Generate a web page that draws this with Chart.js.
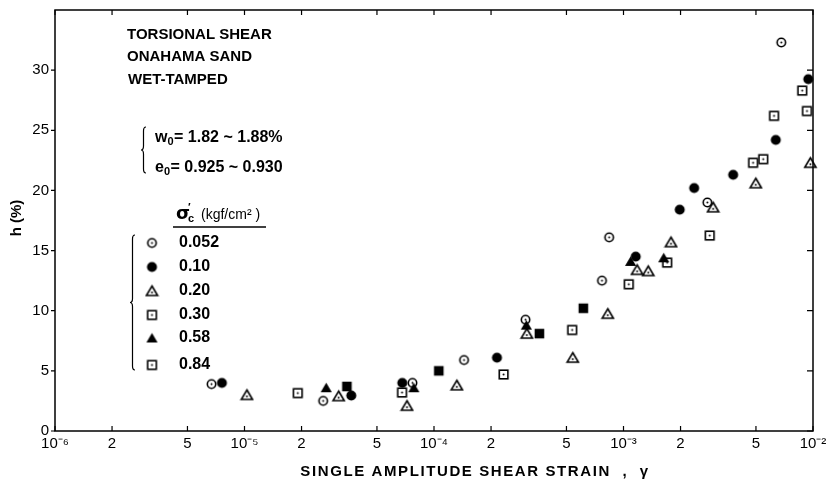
<!DOCTYPE html>
<html><head><meta charset="utf-8">
<script src="https://cdn.jsdelivr.net/npm/chart.js@4.4.1/dist/chart.umd.min.js"></script>
<style>html,body{margin:0;padding:0;background:#fff}</style>
</head><body>
<canvas id="c" width="836" height="483"></canvas>
<script>
// ---- tick values / labels ----
const xTickValues = [1e-6,2e-6,5e-6,1e-5,2e-5,5e-5,1e-4,2e-4,5e-4,1e-3,2e-3,5e-3,1e-2];
const xTickLabels = ['10⁻⁶','2','5','10⁻⁵','2','5','10⁻⁴','2','5','10⁻³','2','5','10⁻²'];
const yTickValues = [0,5,10,15,20,25,30];
const seriesLabels = ['0.052','0.10','0.20','0.30','0.58','0.84'];

// ---- data: single amplitude shear strain vs damping ratio h (%) ----
const strain052 = [6.7e-6, 2.6e-5, 7.7e-5, 1.44e-4, 3.04e-4, 7.7e-4, 8.4e-4, 2.77e-3, 6.8e-3];
const h052      = [3.9,    2.5,    4.0,    5.9,     9.25,    12.5,   16.1,   19.0,    32.3];

const strain010 = [7.6e-6, 3.66e-5, 6.8e-5, 2.15e-4, 1.16e-3, 1.98e-3, 2.36e-3, 3.79e-3, 6.36e-3, 9.44e-3];
const h010      = [4.0,    2.95,    4.0,    6.1,     14.5,    18.4,    20.2,    21.3,    24.2,    29.25];

const strain020 = [1.03e-5, 3.14e-5, 7.2e-5, 1.32e-4, 3.09e-4, 5.4e-4, 8.26e-4, 1.18e-3, 1.35e-3, 1.78e-3, 2.97e-3, 4.99e-3, 9.68e-3];
const h020      = [3.0,     2.9,     2.1,    3.8,     8.1,     6.1,    9.75,    13.4,    13.3,    15.7,    18.6,    20.6,    22.3];

const strain030 = [3.47e-5, 1.06e-4, 3.6e-4, 6.14e-4];
const h030      = [3.7,     5.0,     8.1,    10.2];

const strain058 = [2.7e-5, 7.83e-5, 3.07e-4, 1.09e-3, 1.63e-3];
const h058      = [3.6,    3.6,     8.8,     14.1,    14.4];

const strain084 = [1.91e-5, 6.78e-5, 2.33e-4, 5.36e-4, 1.066e-3, 1.70e-3, 2.85e-3, 4.83e-3, 5.46e-3, 6.23e-3, 8.77e-3, 9.29e-3];
const h084      = [3.15,    3.2,     4.7,     8.4,     12.2,     14.0,    16.25,   22.3,    22.6,    26.2,    28.3,    26.6];

// ---- marker images ----
const INK = '#000';
function marker(kind){
  const s = 15, c = document.createElement('canvas'); c.width = s; c.height = s;
  const g = c.getContext('2d'); g.strokeStyle = INK; g.fillStyle = INK; g.lineWidth = 1.6;
  const m = s/2;
  const dot = (yy)=>{ g.beginPath(); g.arc(m, yy, 1.0, 0, Math.PI*2); g.fill(); };
  if (kind==='ocircle'){ g.beginPath(); g.arc(m,m,4.2,0,Math.PI*2); g.stroke(); dot(m); }
  if (kind==='fcircle'){ g.beginPath(); g.arc(m,m,5,0,Math.PI*2); g.fill(); }
  if (kind==='otri'||kind==='ftri'){
    g.beginPath(); g.moveTo(m,2.5); g.lineTo(m+5.6,12); g.lineTo(m-5.6,12); g.closePath();
    if (kind==='otri'){ g.stroke(); dot(9); } else g.fill();
  }
  if (kind==='osquare'){ g.strokeRect(m-4.3,m-4.3,8.6,8.6); dot(m); }
  if (kind==='fsquare'){ g.fillRect(m-4.8,m-4.8,9.6,9.6); }
  return c;
}
const mk = {
  ocircle: marker('ocircle'), fcircle: marker('fcircle'), otri: marker('otri'),
  ftri: marker('ftri'), osquare: marker('osquare'), fsquare: marker('fsquare')
};
const pts = (xs, ys) => xs.map((v,i)=>({x:v, y:ys[i]}));
const ds = (label, xs, ys, img) => ({label, data: pts(xs,ys), pointStyle: img, pointRadius: 5, clip: false, showLine:false});

const datasets = [
  ds(seriesLabels[0], strain052, h052, mk.ocircle),
  ds(seriesLabels[1], strain010, h010, mk.fcircle),
  ds(seriesLabels[2], strain020, h020, mk.otri),
  ds(seriesLabels[3], strain030, h030, mk.fsquare),
  ds(seriesLabels[4], strain058, h058, mk.ftri),
  ds(seriesLabels[5], strain084, h084, mk.osquare)
];
const legendMarkers = [mk.ocircle, mk.fcircle, mk.otri, mk.osquare, mk.ftri, mk.osquare];

function brace(ctx, x, y1, y2, w){
  const ym = (y1+y2)/2, r = 4, xm = x + w/2;
  ctx.beginPath();
  ctx.moveTo(x+w, y1);
  ctx.quadraticCurveTo(xm, y1, xm, y1+r);
  ctx.lineTo(xm, ym-r);
  ctx.quadraticCurveTo(xm, ym, x, ym);
  ctx.quadraticCurveTo(xm, ym, xm, ym+r);
  ctx.lineTo(xm, y2-r);
  ctx.quadraticCurveTo(xm, y2, x+w, y2);
  ctx.stroke();
}

const deco = {
  id: 'deco',
  afterDraw(chart){
    const {ctx, chartArea: a, scales: {x, y}} = chart;
    ctx.save();
    ctx.strokeStyle = INK; ctx.fillStyle = INK;
    // frame
    ctx.lineWidth = 1.5;
    ctx.strokeRect(a.left, a.top, a.right - a.left, a.bottom - a.top);
    // ticks
    ctx.lineWidth = 1.2;
    ctx.beginPath();
    for (const v of xTickValues){
      const px = x.getPixelForValue(v);
      ctx.moveTo(px, a.bottom); ctx.lineTo(px, a.bottom - 5);
      ctx.moveTo(px, a.top); ctx.lineTo(px, a.top + 5);
    }
    for (const v of yTickValues){
      const py = y.getPixelForValue(v);
      ctx.moveTo(a.left - 4, py); ctx.lineTo(a.left, py);
      ctx.moveTo(a.right, py); ctx.lineTo(a.right - 6, py);
    }
    ctx.stroke();

    // axis titles
    ctx.textBaseline = 'middle';
    ctx.textAlign = 'center';
    ctx.font = 'bold 15px "Liberation Sans", Arial, sans-serif';
    if ('letterSpacing' in ctx) ctx.letterSpacing = '1.6px';
    ctx.fillText('SINGLE AMPLITUDE SHEAR STRAIN  ,  γ', 475, 472);
    if ('letterSpacing' in ctx) ctx.letterSpacing = '0px';
    ctx.save();
    ctx.translate(17, 218); ctx.rotate(-Math.PI/2);
    ctx.font = 'bold 15px "Liberation Sans", Arial, sans-serif';
    ctx.fillText('h (%)', 0, 0);
    ctx.restore();

    // annotation text
    ctx.textAlign = 'left';
    ctx.font = 'bold 15px "Liberation Sans", Arial, sans-serif';
    ctx.fillText('TORSIONAL SHEAR', 127, 35);
    ctx.fillText('ONAHAMA SAND', 127, 57);
    ctx.fillText('WET-TAMPED', 128, 80);

    ctx.lineWidth = 1.2;
    brace(ctx, 141, 127, 173, 5);
    const subLine = (x0, yy, base, sub, rest) => {
      ctx.font = 'bold 16px "Liberation Sans", Arial, sans-serif';
      ctx.fillText(base, x0, yy);
      let xx = x0 + ctx.measureText(base).width;
      ctx.font = 'bold 11px "Liberation Sans", Arial, sans-serif';
      ctx.fillText(sub, xx, yy + 4);
      xx += ctx.measureText(sub).width + 0.5;
      ctx.font = 'bold 16px "Liberation Sans", Arial, sans-serif';
      ctx.fillText(rest, xx, yy);
    };
    subLine(155, 138, 'w', '0', '= 1.82 ~ 1.88%');
    subLine(155, 168, 'e', '0', '= 0.925 ~ 0.930');

    // legend header
    ctx.font = 'bold 18px "DejaVu Sans", sans-serif';
    ctx.fillText('σ', 176, 214);
    ctx.font = 'bold 11px "Liberation Sans", Arial, sans-serif';
    ctx.fillText('\u2032', 188, 208);
    ctx.fillText('c', 188, 219);
    ctx.font = '14px "Liberation Sans", Arial, sans-serif';
    ctx.fillText('(kgf/cm² )', 201, 215);
    ctx.lineWidth = 1.3;
    ctx.beginPath(); ctx.moveTo(173, 227); ctx.lineTo(266, 227); ctx.stroke();

    // legend entries
    ctx.lineWidth = 1.2;
    brace(ctx, 130, 235, 370, 5);
    const rows = [243, 267, 291, 315, 338, 365];
    ctx.font = 'bold 16px "Liberation Sans", Arial, sans-serif';
    seriesLabels.forEach((lab, i) => {
      const img = legendMarkers[i];
      ctx.drawImage(img, 152 - img.width/2, rows[i] - img.height/2);
      ctx.fillText(lab, 179, rows[i]);
    });
    ctx.restore();
  }
};

new Chart(document.getElementById('c'), {
  type: 'scatter',
  data: { datasets },
  options: {
    responsive: false, animation: false, devicePixelRatio: 1,
    layout: { padding: { top: 10, right: 23, left: 0, bottom: 0 } },
    plugins: { legend: { display: false }, tooltip: { enabled: false } },
    scales: {
      x: {
        type: 'logarithmic', min: 1e-6, max: 1e-2,
        afterFit: s => { s.height = 52; s.paddingLeft = 0; s.paddingRight = 0; },
        afterBuildTicks: s => { s.ticks = xTickValues.map(v => ({ value: v })); },
        ticks: { autoSkip: false, maxRotation: 0, minRotation: 0, padding: 4, color: INK,
                 font: { family: '"Liberation Sans", Arial, sans-serif', size: 15 },
                 callback: (v, i) => xTickLabels[i] },
        grid: { display: false, drawTicks: false }, border: { display: false }
      },
      y: {
        min: 0, max: 35,
        afterFit: s => { s.width = 55; s.paddingTop = 0; s.paddingBottom = 0; },
        afterBuildTicks: s => { s.ticks = yTickValues.map(v => ({ value: v })); },
        ticks: { padding: 6, color: INK,
                 font: { family: '"Liberation Sans", Arial, sans-serif', size: 15 },
                 callback: v => String(v) },
        grid: { display: false, drawTicks: false }, border: { display: false }
      }
    }
  },
  plugins: [deco]
});
</script>
</body></html>
